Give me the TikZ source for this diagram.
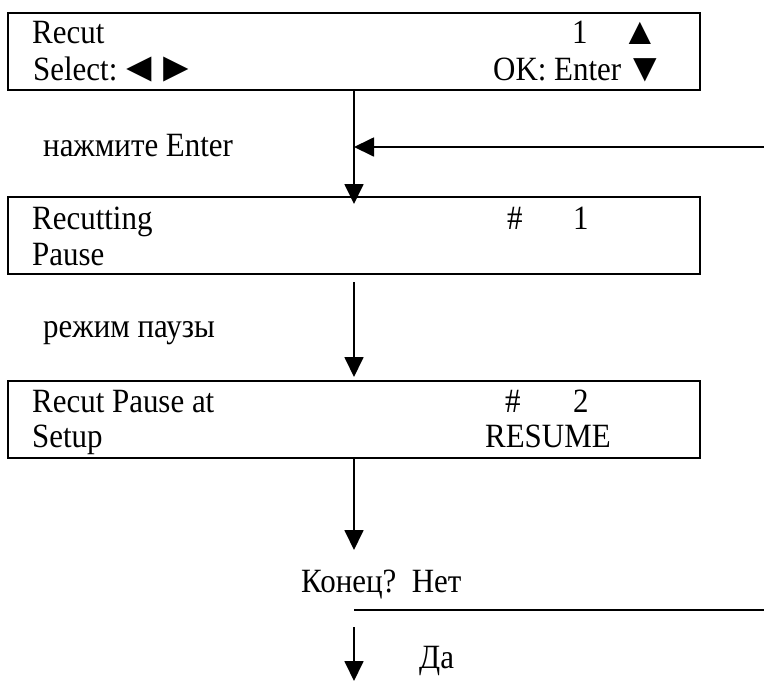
\documentclass[tikz,border=0pt]{standalone}
\usepackage{fontspec}
\setmainfont{Liberation Serif}[FakeStretch=0.91]
\newfontfamily\symfont{Liberation Serif}
\usetikzlibrary{arrows.meta}
\begin{document}
\begin{tikzpicture}[x=1pt,y=-1pt,
  lcd/.style={draw,line width=1.8pt,minimum width=692pt,minimum height=77pt,inner sep=0pt,outer sep=0pt,anchor=north west},
  txt/.style={anchor=base west,inner sep=0pt,font=\fontsize{34}{40}\selectfont},
  sym/.style={anchor=center,inner sep=0pt,font=\symfont\fontsize{38}{38}\selectfont},
  arr/.style={line width=1.8pt,-{Triangle[length=20pt,width=19pt]}},
  ln/.style={line width=1.8pt}]
\useasboundingbox (0,0) rectangle (764,681);
% boxes
\node[lcd] (b1) at (8,13) {};
\node[lcd] (b2) at (8,197) {};
\node[lcd] (b3) at (8,381) {};
% box 1 text
\node[txt] (t11) at (32,43) {Recut};
\node[txt] (t12) at (572,43) {1};
\node[sym] (t13) at (640,33) {▲};
\node[txt] (t14) at (33,80) {Select:};
\node[sym,font=\symfont\fontsize{42}{42}\selectfont] (t16) at (158,70) {◄\kern-0.12em►};
\node[txt] (t15) at (493,80) {OK: Enter};
\node[sym,font=\symfont\fontsize{40}{40}\selectfont] (t17) at (645,70) {▼};
% box 2 text
\node[txt] (t21) at (32,229) {Recutting};
\node[txt] (t22) at (507,229) {\#};
\node[txt] (t23) at (573,229) {1};
\node[txt] (t24) at (32,265) {Pause};
% box 3 text
\node[txt] (t31) at (32,412) {Recut Pause at};
\node[txt] (t32) at (505,412) {\#};
\node[txt] (t33) at (573,412) {2};
\node[txt] (t34) at (32,447) {Setup};
\node[txt] (t35) at (485,447) {RESUME};
% labels
\node[txt] (l1) at (43,156) {нажмите Enter};
\node[txt] (l2) at (43,337) {режим паузы};
\node[txt] (l3) at (301,592) {Конец?\ \ Нет};
\node[txt] (l4) at (419,668) {Да};
% connectors
\coordinate (r1) at (764,147);
\coordinate (q) at (354,550);
\coordinate (h1) at (354,610);
\coordinate (h2) at (764,610);
\coordinate (d1) at (354,627);
\coordinate (d2) at (354,681);
\draw[arr] (b1.south) -- ([yshift=-7pt]b2.north);
\draw[arr] (r1) -- (r1 -| b1.south);
\draw[arr] ([yshift=-8pt]b2.south) -- ([yshift=4pt]b3.north);
\draw[arr] (b3.south) -- (q);
\draw[ln] (h1) -- (h2);
\draw[arr] (d1) -- (d2);
\end{tikzpicture}
\end{document}
